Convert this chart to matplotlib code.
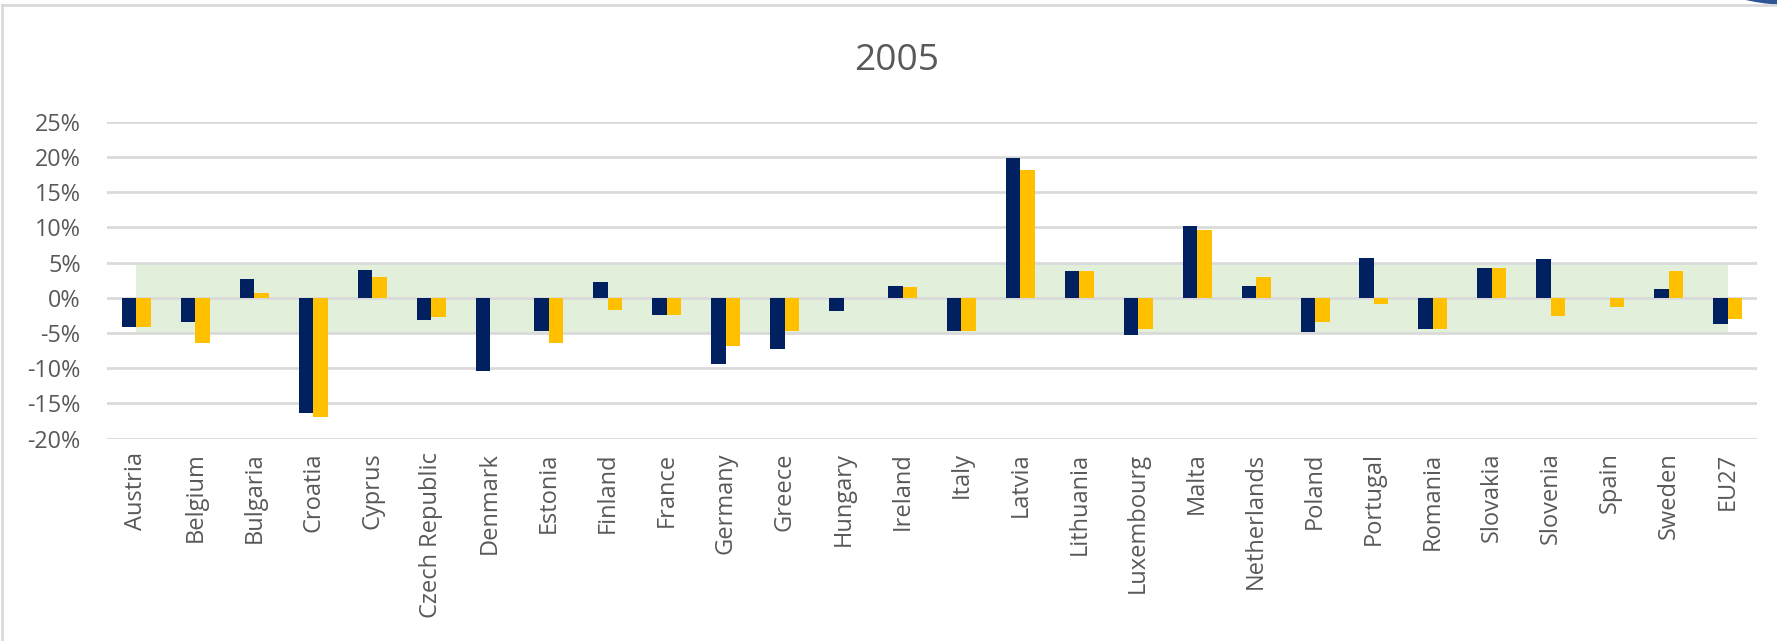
import matplotlib
matplotlib.use("Agg")
import matplotlib.pyplot as plt
import numpy as np
from matplotlib.lines import Line2D
from matplotlib.patches import Ellipse

countries = ["Austria", "Belgium", "Bulgaria", "Croatia", "Cyprus", "Czech Republic",
             "Denmark", "Estonia", "Finland", "France", "Germany", "Greece", "Hungary",
             "Ireland", "Italy", "Latvia", "Lithuania", "Luxembourg", "Malta",
             "Netherlands", "Poland", "Portugal", "Romania", "Slovakia", "Slovenia",
             "Spain", "Sweden", "EU27"]
series_navy = [-4.2, -3.5, 2.6, -16.4, 4.0, -3.2, -10.4, -4.7, 2.3, -2.4, -9.4, -7.3, -1.9,
               1.7, -4.7, 19.8, 3.8, -5.3, 10.2, 1.7, -4.9, 5.7, -4.5, 4.2, 5.5, 0.0, 1.3, -3.7]
series_yellow = [-4.2, -6.4, 0.6, -16.9, 3.0, -2.7, 0.0, -6.5, -1.7, -2.4, -6.9, -4.7, 0.0,
                 1.5, -4.7, 18.1, 3.8, -4.5, 9.6, 3.0, -3.4, -0.9, -4.5, 4.2, -2.6, -1.3, 3.8, -3.0]
band_lower = -5
band_upper = 5
y_ticks = [-20, -15, -10, -5, 0, 5, 10, 15, 20, 25]
title = "2005"

NAVY = "#002060"
YELLOW = "#FFC000"
GREEN = "#E2EFDA"
GRID = "#D9D9D9"
TEXT = "#595959"
FONT = ["Open Sans", "DejaVu Sans"]

W, H = 1777, 641
fig = plt.figure(figsize=(W / 100, H / 100), dpi=100)
fig.patch.set_facecolor("white")

left, right = 107 / W, 1757 / W
bottom, top = (H - 438.5) / H, (H - 121.7) / H
ax = fig.add_axes([left, bottom, right - left, top - bottom])

x = np.arange(len(countries))
bw = 0.246

# green tolerance band between first and last category centres
ax.fill_between([x[0], x[-1]], band_lower, band_upper, color=GREEN, linewidth=0, zorder=0.5)

ax.bar(x - bw / 2, series_navy, width=bw, color=NAVY, linewidth=0, zorder=3)
ax.bar(x + bw / 2, series_yellow, width=bw, color=YELLOW, linewidth=0, zorder=3)

ax.set_xlim(-0.5, len(countries) - 0.5)
ax.set_ylim(-20, 25)
ax.set_yticks(y_ticks)
ax.set_yticklabels([f"{v}%" for v in y_ticks], family=FONT, fontsize=16.8, color=TEXT)
ax.set_xticks(x)
ax.set_xticklabels(countries, rotation=90, family=FONT, fontsize=17, color=TEXT,
                   ha="center", va="top")
ax.tick_params(axis="both", length=0)
ax.tick_params(axis="y", pad=19)
ax.tick_params(axis="x", pad=10)

ax.yaxis.grid(True, color=GRID, linewidth=1.9, zorder=1)
ax.set_axisbelow(True)
for s in ax.spines.values():
    s.set_visible(False)

fig.text(897 / W, (H - 70) / H, title, family=FONT, fontsize=26.7, color=TEXT,
         ha="center", va="baseline")

# chart frame (left and top visible)
fig.add_artist(Line2D([2 / W, 2 / W], [0, (H - 5) / H], color=GRID, linewidth=2,
                      transform=fig.transFigure))
fig.add_artist(Line2D([2 / W, 1], [(H - 5) / H, (H - 5) / H], color=GRID, linewidth=2,
                      transform=fig.transFigure))
fig.add_artist(Ellipse((1790 / W, (H + 195) / H), 400 / W, 400 / H,
                       transform=fig.transFigure, color="#2F5597", linewidth=0))

fig.savefig("out.png", dpi=100, facecolor="white")
